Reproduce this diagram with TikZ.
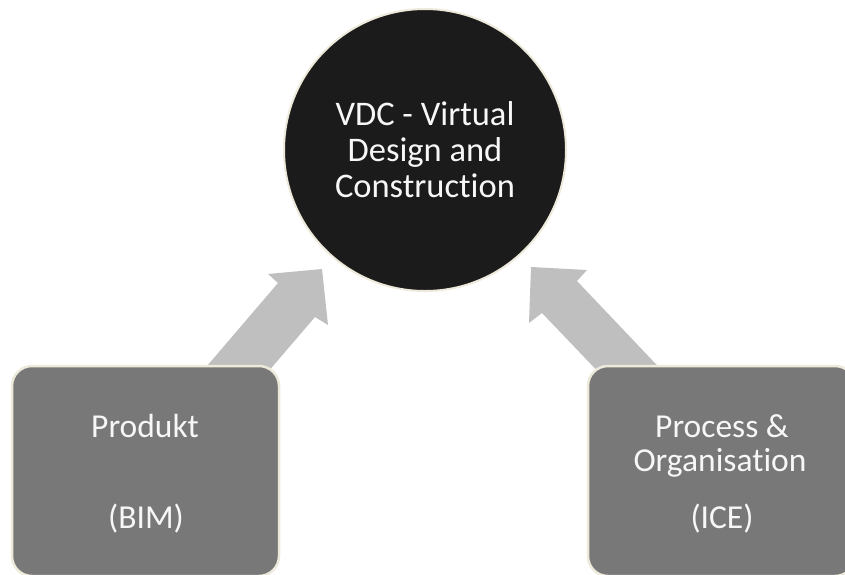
\documentclass[tikz,border=0pt]{standalone}
\usepackage{fontspec}
\setmainfont{Carlito}[Ligatures={NoCommon,NoRare}]
\definecolor{edge}{HTML}{EEEADB}
\definecolor{boxfill}{HTML}{787878}
\definecolor{hubfill}{HTML}{1B1B1B}
\definecolor{arrowfill}{HTML}{BFBFBF}
\definecolor{ink}{HTML}{F7F7F7}
\tikzset{
  hub/.style={circle, fill=hubfill, draw=edge, line width=2pt, minimum size=282pt, inner sep=0pt},
  sidebox/.style={rectangle, rounded corners=20pt, fill=boxfill, draw=edge, line width=2.5pt,
    minimum width=267pt, minimum height=210pt, inner sep=0pt},
  boxtext/.style={text=ink, font=\fontsize{33.5}{36}\selectfont, anchor=base, inner sep=0pt},
  hubtext/.style={text=ink, font=\fontsize{34.5}{36}\selectfont, align=center, inner sep=0pt},
  blockarrow/.style={fill=arrowfill, draw=none}
}
\begin{document}
\begin{tikzpicture}[x=1pt, y=-1pt]
  \useasboundingbox (0,0) rectangle (845,574);

  % broad arrows from the two boxes towards the hub
  \fill[blockarrow] (195,380) -- (278,283) -- (268,274) -- (322,269)
    -- (328,325) -- (315,317) -- (261,380) -- cycle;
  \fill[blockarrow] (671,380) -- (577,281) -- (587,270) -- (531,267)
    -- (529,323) -- (542,313) -- (606,380) -- cycle;

  % hub
  \node[hub] (vdc) at (425,150) {};
  \node[hubtext] (vdctext) at (425,150) {VDC - Virtual\\Design and\\Construction};

  % side boxes
  \node[sidebox] (bim) at (145.5,471) {};
  \node[sidebox] (ice) at (721.5,471) {};

  \node[boxtext] (bim1) at (145,437) {Produkt};
  \node[boxtext] (bim2) at (146,528) {(BIM)};

  \node[boxtext] (ice1) at (722,437) {Process \&};
  \node[boxtext] (ice2) at (720,471) {Organisation};
  \node[boxtext] (ice3) at (722,528) {(ICE)};
\end{tikzpicture}
\end{document}
